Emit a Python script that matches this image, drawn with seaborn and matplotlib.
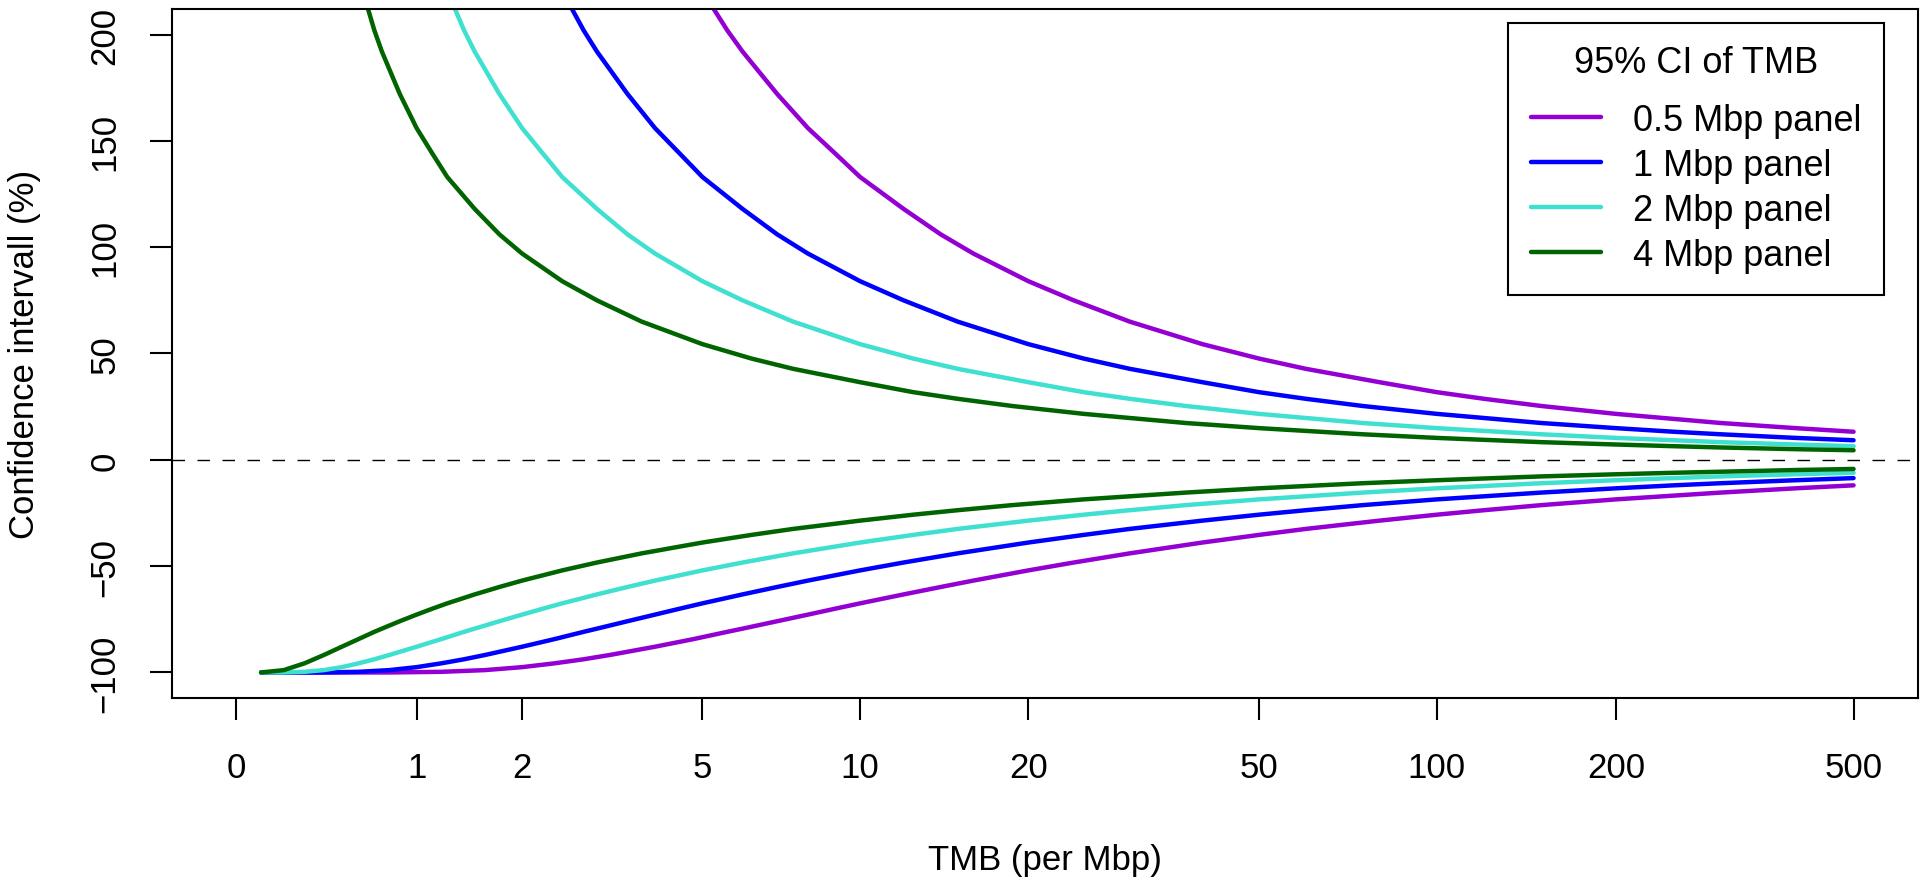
import numpy as np
import pandas as pd
import seaborn as sns
import matplotlib.pyplot as plt
from matplotlib.lines import Line2D

# values (TMB per Mbp, CI bounds in %)
tmb_05 = [0.1, 0.2, 0.4, 0.8, 1.2, 1.6, 2, 2.4, 2.8, 3.2, 4, 4.8, 5.6, 6, 7, 8, 9, 10, 12,
          14, 16, 20, 24, 30, 40, 50, 60, 80, 100, 120, 150, 200, 300, 400, 500]
upper_05 = [np.nan] * 9 + [311, 261, 227, 202, 192, 172, 156, 144, 133, 118, 106, 97, 84,
                           75, 65, 54.4, 47.6, 42.8, 36.5, 31.8, 28.7, 25.3, 21.6, 17.3,
                           14.9, 13.2]
lower_05 = [-100, -100, -100, -100, -99.7, -98.9, -97.5, -95.7, -93.8, -91.8, -87.9, -84.3,
            -80.9, -79.4, -75.9, -72.8, -70.0, -67.5, -63.3, -59.8, -56.8, -52.0, -48.3,
            -44.0, -38.9, -35.3, -32.5, -28.6, -25.8, -23.7, -21.3, -18.6, -15.4, -13.4,
            -12.0]

tmb_1 = [0.1, 0.2, 0.4, 0.6, 0.8, 1.0, 1.2, 1.4, 1.6, 2, 2.4, 2.8, 3, 3.5, 4, 4.5, 5, 6, 7,
         8, 10, 12, 15, 20, 25, 30, 40, 50, 60, 75, 100, 150, 200, 250, 300, 400, 500]
upper_1 = [np.nan] * 8 + [311, 261, 227, 202, 192, 172, 156, 144, 133, 118, 106, 97, 84, 75,
                          65, 54.4, 47.6, 42.8, 36.5, 31.8, 28.7, 25.3, 21.6, 17.3, 14.9,
                          13.2, 12.0, 10.3, 9.2]
lower_1 = [-100, -100, -100, -99.7, -98.9, -97.5, -95.7, -93.8, -91.8, -87.9, -84.3, -80.9,
           -79.4, -75.9, -72.8, -70.0, -67.5, -63.3, -59.8, -56.8, -52.0, -48.3, -44.0,
           -38.9, -35.3, -32.5, -28.6, -25.8, -23.7, -21.3, -18.6, -15.4, -13.4, -12.0,
           -11.0, -9.6, -8.6]

tmb_2 = [0.1, 0.2, 0.3, 0.4, 0.5, 0.6, 0.7, 0.8, 1, 1.2, 1.4, 1.5, 1.75, 2, 2.25, 2.5, 3,
         3.5, 4, 5, 6, 7.5, 10, 12.5, 15, 20, 25, 30, 37.5, 50, 75, 100, 150, 200, 250, 300,
         400, 500]
upper_2 = [np.nan] * 7 + [311, 261, 227, 202, 192, 172, 156, 144, 133, 118, 106, 97, 84, 75,
                          65, 54.4, 47.6, 42.8, 36.5, 31.8, 28.7, 25.3, 21.6, 17.3, 14.9,
                          12.0, 10.3, 9.2, 8.3, 7.2, 6.4]
lower_2 = [-100, -100, -99.7, -98.9, -97.5, -95.7, -93.8, -91.8, -87.9, -84.3, -80.9, -79.4,
           -75.9, -72.8, -70.0, -67.5, -63.3, -59.8, -56.8, -52.0, -48.3, -44.0, -38.9,
           -35.3, -32.5, -28.6, -25.8, -23.7, -21.3, -18.6, -15.4, -13.4, -11.0, -9.6,
           -8.6, -7.8, -6.8, -6.1]

tmb_4 = [0.1, 0.2, 0.3, 0.4, 0.5, 0.6, 0.7, 0.75, 0.875, 1, 1.125, 1.25, 1.5, 1.75, 2, 2.5,
         3, 3.75, 5, 6.25, 7.5, 10, 12.5, 15, 18.75, 25, 37.5, 50, 75, 100, 125, 150, 200,
         250, 300, 400, 500]
upper_4 = [np.nan] * 3 + [311, 261, 227, 202, 192, 172, 156, 144, 133, 118, 106, 97, 84, 75,
                          65, 54.4, 47.6, 42.8, 36.5, 31.8, 28.7, 25.3, 21.6, 17.3, 14.9,
                          12.0, 10.3, 9.2, 8.3, 7.2, 6.4, 5.8, 5.0, 4.5]
lower_4 = [-100, -98.9, -95.7, -91.8, -87.9, -84.3, -80.9, -79.4, -75.9, -72.8, -70.0,
           -67.5, -63.3, -59.8, -56.8, -52.0, -48.3, -44.0, -38.9, -35.3, -32.5, -28.6,
           -25.8, -23.7, -21.3, -18.6, -15.4, -13.4, -11.0, -9.6, -8.6, -7.8, -6.8, -6.1,
           -5.6, -4.8, -4.3]

panel_labels = ["0.5 Mbp panel", "1 Mbp panel", "2 Mbp panel", "4 Mbp panel"]
panel_colors = ["darkviolet", "blue", "turquoise", "darkgreen"]
x_ticks = [0, 1, 2, 5, 10, 20, 50, 100, 200, 500]
y_ticks = [-100, -50, 0, 50, 100, 150, 200]

curves = [(tmb_05, upper_05, lower_05), (tmb_1, upper_1, lower_1),
          (tmb_2, upper_2, lower_2), (tmb_4, upper_4, lower_4)]
rows = []
for label, (tmb, up, lo) in zip(panel_labels, curves):
    rows.append(pd.DataFrame({"tmb": tmb, "ci": up, "panel": label, "bound": "upper"}))
    rows.append(pd.DataFrame({"tmb": tmb, "ci": lo, "panel": label, "bound": "lower"}))
df = pd.concat(rows, ignore_index=True).dropna()

sns.set_theme(style="white")
plt.rcParams["font.family"] = ["Liberation Sans", "DejaVu Sans"]
plt.rcParams["text.color"] = "black"
plt.rcParams["axes.labelcolor"] = "black"
plt.rcParams["axes.linewidth"] = 1.5

fig = plt.figure(figsize=(19.2, 8.78), dpi=100)
ax = fig.add_axes([0.0894, 0.2039, 0.9097, 0.7847])

ax.axhline(0, color="black", lw=1.0, ls=(0, (9, 9)), zorder=1)
sns.lineplot(data=df, x="tmb", y="ci", hue="panel", units="bound", estimator=None,
             palette=dict(zip(panel_labels, panel_colors)), hue_order=panel_labels,
             lw=3.2, legend=False, ax=ax, zorder=2)

# log(x + 1) axis
ax.set_xscale("function", functions=(lambda v: np.log10(v + 1), lambda v: 10 ** v - 1))
ax.set_xlim(-0.22, 641.5)
ax.set_ylim(-112, 212)
ax.set_xticks(x_ticks)
ax.set_xticklabels([str(t) for t in x_ticks])
ax.set_yticks(y_ticks)
ax.set_yticklabels([str(t).replace("-", "\u2212") for t in y_ticks], rotation=90,
                   va="center", ha="right")
ax.minorticks_off()
ax.tick_params(axis="both", which="major", labelsize=25, length=16, width=1.5,
               color="black", labelcolor="black", direction="out",
               bottom=True, left=True, top=False, right=False)
ax.tick_params(axis="x", pad=22)
ax.tick_params(axis="y", pad=20)
for side in ax.spines.values():
    side.set_color("black")
    side.set_linewidth(1.5)

ax.set_xlabel("TMB (per Mbp)", fontsize=25, color="black")
ax.set_ylabel("Confidence intervall (%)", fontsize=25, color="black")
ax.xaxis.set_label_coords(0.5, -0.2106)
ax.yaxis.set_label_coords(-0.075, 0.5)

handles = [Line2D([], [], color=c, lw=3.2) for c in panel_colors]
leg = ax.legend(handles, panel_labels, title="95% CI of TMB", loc="upper right",
                bbox_to_anchor=(0.9805, 0.9797), borderaxespad=0, fontsize=26,
                title_fontsize=26, frameon=True, fancybox=False, framealpha=1,
                edgecolor="black", handlelength=1.95, handletextpad=0.9,
                labelspacing=0.28, borderpad=0.62)
leg.get_frame().set_linewidth(1.5)
leg._legend_box.sep = 16

fig.savefig("out.png", dpi=100)
